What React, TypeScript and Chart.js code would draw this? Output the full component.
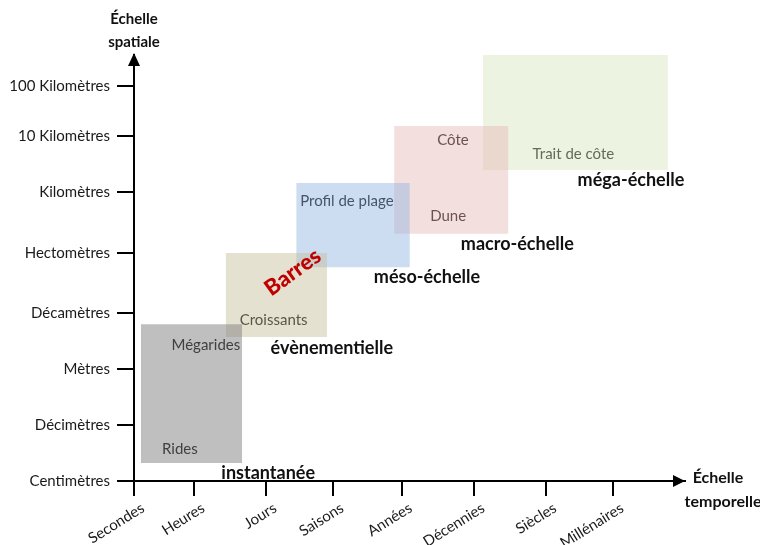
import React, { useEffect, useRef } from 'react';
import { Chart, registerables } from 'chart.js';

Chart.register(...registerables);

// ---- Data ----
const timeLabels = ['Secondes', 'Heures', 'Jours', 'Saisons', 'Années', 'Décennies', 'Siècles', 'Millénaires'];
const timeTicks = [0, 0.88, 1.93, 2.91, 3.91, 4.97, 6.02, 7];
const spaceLabels = ['Centimètres', 'Décimètres', 'Mètres', 'Décamètres', 'Hectomètres', 'Kilomètres', '10 Kilomètres', '100 Kilomètres'];
const spaceTicks = [0, 0.99, 1.98, 2.98, 4.04, 5.12, 6.11, 7];

const zoneNames = ['instantanée', 'évènementielle', 'méso-échelle', 'macro-échelle', 'méga-échelle'];
const zoneTimeFrom = [0.1, 1.34, 2.37, 3.8, 5.1];
const zoneTimeTo = [1.58, 2.82, 4.03, 5.47, 7.8];
const zoneSpaceFrom = [0.32, 2.55, 3.79, 4.38, 5.51];
const zoneSpaceTo = [2.78, 4.04, 5.28, 6.29, 7.57];
const zoneLabelTime = [1.96, 2.89, 4.28, 5.6, 7.26];
const zoneLabelSpace = [0.14, 2.36, 3.62, 4.2, 5.33];

const featureNames = ['Rides', 'Mégarides', 'Croissants', 'Profil de plage', 'Dune', 'Côte', 'Trait de côte'];
const featureTime = [0.67, 1.05, 2.04, 3.11, 4.59, 4.66, 6.42];
const featureSpace = [0.57, 2.41, 2.85, 4.96, 4.7, 6.04, 5.8];

const highlightName = 'Barres';
const highlightTime = 2.32;
const highlightSpace = 3.7;

const axisTitleY = ['Échelle', 'spatiale'];
const axisTitleX = ['Échelle', 'temporelle'];

// ---- Styles ----
const zoneFill = [
  'rgba(128,128,128,0.5)',
  'rgba(196,189,151,0.45)',
  'rgba(141,180,226,0.45)',
  'rgba(230,184,183,0.45)',
  'rgba(215,228,189,0.45)',
];
const featureColor = ['#404040', '#404040', '#5b5647', '#45546b', '#6b5252', '#6b5252', '#656b58'];
const FONT = 'Lato, "Open Sans", sans-serif';

export default function App() {
  const ref = useRef<HTMLCanvasElement | null>(null);

  useEffect(() => {
    if (!ref.current) return;

    const datasets = zoneNames.map((name, i) => ({
      label: name,
      data: [
        { x: zoneTimeFrom[i], y: zoneSpaceTo[i] },
        { x: zoneTimeTo[i], y: zoneSpaceTo[i] },
      ],
      showLine: true,
      borderWidth: 0,
      borderColor: 'rgba(0,0,0,0)',
      pointRadius: 0,
      pointHoverRadius: 0,
      backgroundColor: zoneFill[i],
      fill: { value: zoneSpaceFrom[i] },
      clip: false as any,
    }));

    const overlay = {
      id: 'overlay',
      afterDraw(chart: any) {
        const ctx = chart.ctx;
        const xs = chart.scales.x;
        const ys = chart.scales.y;
        const ca = chart.chartArea;
        ctx.save();
        // arrows
        ctx.fillStyle = '#000';
        ctx.beginPath();
        ctx.moveTo(ca.left, ca.top - 2);
        ctx.lineTo(ca.left - 6, ca.top + 11);
        ctx.lineTo(ca.left + 6, ca.top + 11);
        ctx.closePath();
        ctx.fill();
        ctx.beginPath();
        ctx.moveTo(ca.right, ca.bottom);
        ctx.lineTo(ca.right - 12, ca.bottom - 6);
        ctx.lineTo(ca.right - 12, ca.bottom + 6);
        ctx.closePath();
        ctx.fill();

        ctx.textAlign = 'center';
        ctx.textBaseline = 'middle';
        // axis titles
        ctx.font = `bold 15px ${FONT}`;
        ctx.fillStyle = '#111';
        ctx.fillText(axisTitleY[0], ca.left, ca.top - 36);
        ctx.fillText(axisTitleY[1], ca.left, ca.top - 13);
        ctx.font = `bold 16px ${FONT}`;
        ctx.fillText(axisTitleX[0], ca.right + 33, ca.bottom - 3);
        ctx.fillText(axisTitleX[1], ca.right + 38, ca.bottom + 21);

        // feature labels
        ctx.font = `15px ${FONT}`;
        featureNames.forEach((t, i) => {
          ctx.fillStyle = featureColor[i];
          ctx.fillText(t, xs.getPixelForValue(featureTime[i]), ys.getPixelForValue(featureSpace[i]));
        });

        // zone labels
        ctx.font = `bold 18px ${FONT}`;
        ctx.fillStyle = '#111';
        zoneNames.forEach((t, i) => {
          ctx.fillText(t, xs.getPixelForValue(zoneLabelTime[i]), ys.getPixelForValue(zoneLabelSpace[i]));
        });

        // highlight
        ctx.save();
        ctx.translate(xs.getPixelForValue(highlightTime), ys.getPixelForValue(highlightSpace));
        ctx.rotate(-36 * Math.PI / 180);
        ctx.font = `900 22px ${FONT}`;
        ctx.fillStyle = '#c00000';
        ctx.fillText(highlightName, 0, 0);
        ctx.restore();

        ctx.restore();
      },
    };

    const chart = new Chart(ref.current, {
      type: 'scatter',
      data: { datasets },
      plugins: [overlay],
      options: {
        responsive: false,
        animation: false,
        events: [],
        layout: { padding: { top: 55, right: 75, bottom: 0, left: 0 } },
        plugins: {
          legend: { display: false },
          tooltip: { enabled: false },
        },
        scales: {
          x: {
            type: 'linear',
            min: 0,
            max: 8.05,
            afterBuildTicks: (s: any) => {
              s.ticks = timeTicks.map((v) => ({ value: v }));
            },
            afterFit: (s: any) => {
              s.height = 64;
            },
            border: { display: true, color: '#000', width: 2 },
            grid: {
              drawOnChartArea: false,
              drawTicks: true,
              tickLength: 15,
              color: '#000',
              lineWidth: 2,
            },
            ticks: {
              autoSkip: false,
              minRotation: 32,
              maxRotation: 32,
              padding: 3,
              labelOffset: 9,
              color: '#1a1a1a',
              font: { family: FONT, size: 15 },
              callback: (_v: any, i: number) => timeLabels[i],
            },
          },
          y: {
            type: 'linear',
            min: 0,
            max: 7.55,
            afterBuildTicks: (s: any) => {
              s.ticks = spaceTicks.map((v) => ({ value: v }));
            },
            afterFit: (s: any) => {
              s.width = 134;
            },
            border: { display: true, color: '#000', width: 2 },
            grid: {
              drawOnChartArea: false,
              drawTicks: true,
              tickLength: 17,
              color: '#000',
              lineWidth: 2,
            },
            ticks: {
              autoSkip: false,
              padding: 7,
              color: '#1a1a1a',
              font: { family: FONT, size: 15 },
              callback: (_v: any, i: number) => spaceLabels[i],
            },
          },
        },
      } as any,
    });

    return () => chart.destroy();
  }, []);

  return (
    <div style={{ position: 'fixed', left: 0, top: 0, width: 760, height: 545, background: '#fff' }}>
      <canvas ref={ref} width={760} height={545} />
    </div>
  );
}
